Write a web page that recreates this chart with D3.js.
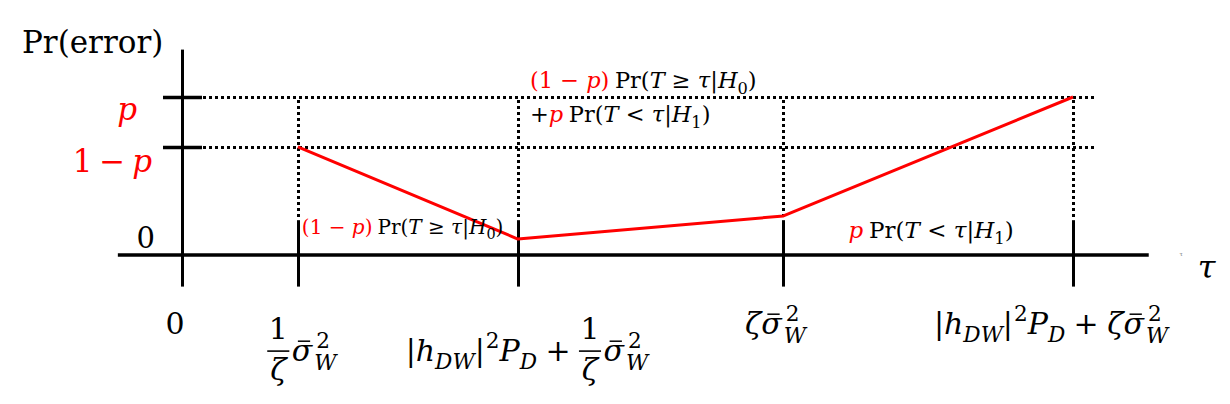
<!DOCTYPE html>
<html>
<head>
<meta charset="utf-8">
<script src="https://cdn.jsdelivr.net/npm/d3@7"></script>
<style>
  body { margin: 0; background: #fff; }
</style>
</head>
<body>
<svg id="chart" width="1230" height="404"></svg>
<script>
const RED   = "#ff0000"
const SERIF = "'DejaVu Serif', serif"

// τ break points in abstract units (0 = origin, 1 = last break point)
const tauBreaks  = [0, 0.130, 0.377, 0.675, 1]
// Pr(error) at tauBreaks[1..4], in units where p = 1
const errorCurve = [0.684, 0.101, 0.247, 1]
// horizontal reference levels: p and 1 - p
const levelValues = [1, 0.684]
const levelLabels = [
  [{ t: "p", it: 1, red: 1 }],
  [{ t: "1", red: 1 }, { sp: 0.22 }, { t: "−", red: 1 }, { sp: 0.22 }, { t: "p", it: 1, red: 1 }]
]
// tick labels under the τ axis
const tauLabels = [
  [{ t: "0" }],
  [{ frac: ["1", "ζ"] }, { sp: 0.08 }, { t: "σ", it: 1, bar: 1 }, { stack: ["2", "W"] }],
  [{ t: "|" }, { t: "h", it: 1 }, { sub: "DW", it: 1 }, { t: "|" }, { sup: "2" }, { t: "P", it: 1 }, { sub: "D", it: 1 },
   { sp: 0.28 }, { t: "+" }, { sp: 0.28 }, { frac: ["1", "ζ"] }, { sp: 0.08 }, { t: "σ", it: 1, bar: 1 }, { stack: ["2", "W"] }],
  [{ t: "ζ", it: 1 }, { t: "σ", it: 1, bar: 1 }, { stack: ["2", "W"] }],
  [{ t: "|" }, { t: "h", it: 1 }, { sub: "DW", it: 1 }, { t: "|" }, { sup: "2" }, { t: "P", it: 1 }, { sub: "D", it: 1 },
   { sp: 0.28 }, { t: "+" }, { sp: 0.28 }, { t: "ζ", it: 1 }, { t: "σ", it: 1, bar: 1 }, { stack: ["2", "W"] }]
]
// annotation texts
const probH0 = [{ t: "(1 − ", red: 1 }, { t: "p", it: 1, red: 1 }, { t: ")", red: 1 }, { sp: 0.25 },
  { t: "Pr(" }, { t: "T", it: 1 }, { t: " ≥ " }, { t: "τ", it: 1 }, { t: "|" }, { t: "H", it: 1 }, { sub: "0" }, { t: ")" }]
const probH1 = [{ t: "p", it: 1, red: 1 }, { sp: 0.25 },
  { t: "Pr(" }, { t: "T", it: 1 }, { t: " < " }, { t: "τ", it: 1 }, { t: "|" }, { t: "H", it: 1 }, { sub: "1" }, { t: ")" }]
const probH1plus = [{ t: "+" }].concat(probH1)

const svg = d3.select("#chart")
const x = d3.scaleLinear().domain([0, 1]).range([182, 1073])
const y = d3.scaleLinear().domain([0, 1]).range([255, 97])
const crisp = v => Math.round(v) + 0.5

// ── small math typesetter ──────────────────────────
function put(g, px, py, txt, size, o) {
  const t = g.append("text")
    .attr("x", px).attr("y", py)
    .attr("font-family", SERIF).attr("font-size", size)
    .attr("font-style", o.it ? "italic" : null)
    .attr("fill", o.red ? RED : "#000")
    .style("white-space", "pre")
    .text(txt)
  return { t, w: t.node().getComputedTextLength() }
}

function mathLabel(g, items, size) {
  let cx = 0
  const small = size * 0.72
  for (const it of items) {
    if (it.sp != null) { cx += it.sp * size; continue }
    if (it.sub != null) { cx += put(g, cx, size * 0.25, it.sub, small, it).w; continue }
    if (it.sup != null) { cx += put(g, cx + 1, -size * 0.42, it.sup, small, it).w + 1; continue }
    if (it.stack) {
      // superscript over subscript, kept in one text element
      const probe = put(g, 0, 0, it.stack[0], small, {})
      const wa = probe.w
      probe.t.remove()
      const t = g.append("text")
        .attr("x", cx + 2).attr("y", -size * 0.44)
        .attr("font-family", SERIF).attr("font-size", small)
      t.append("tspan").text(it.stack[0])
      t.append("tspan").attr("dx", -wa - 2).attr("dy", size * 0.74)
        .attr("font-style", "italic").text(it.stack[1])
      const wb = t.node().getComputedTextLength() - wa
      cx += Math.max(wa + 2, wb); continue
    }
    if (it.frac) {
      const ax  = -size * 0.33
      const num = put(g, 0, ax - size * 0.4, it.frac[0], size, {})
      const den = put(g, 0, ax + size * 0.95, it.frac[1], size, { it: 1 })
      const w   = Math.max(num.w, den.w) + size * 0.1
      num.t.attr("x", cx + (w - num.w) / 2)
      den.t.attr("x", cx + (w - den.w) / 2)
      g.append("line")
        .attr("x1", cx).attr("x2", cx + w)
        .attr("y1", ax).attr("y2", ax)
        .attr("stroke", "#000").attr("stroke-width", 1.6)
      cx += w; continue
    }
    const p = put(g, cx, 0, it.t, size, it)
    if (it.bar) {
      g.append("line")
        .attr("x1", cx + p.w * 0.3).attr("x2", cx + p.w * 0.9)
        .attr("y1", -size * 0.66).attr("y2", -size * 0.66)
        .attr("stroke", "#000").attr("stroke-width", 1.5)
    }
    cx += p.w
  }
  return cx
}

function placeLabel(items, size, px, py, anchor) {
  const g = svg.append("g")
  const w = mathLabel(g, items, size)
  const dx = anchor === "end" ? -w : anchor === "middle" ? -w / 2 : 0
  g.attr("transform", `translate(${px + dx},${py})`)
  return g
}

// ── dotted guides ──────────────────────────────────
const dotted = svg.append("g")
  .attr("stroke", "#000").attr("stroke-width", 3)
  .attr("stroke-dasharray", "3,3").attr("fill", "none")

levelValues.forEach(v => {
  dotted.append("line")
    .attr("x1", Math.round(x(0)) + 21).attr("x2", x(1.0236))
    .attr("y1", crisp(y(v))).attr("y2", crisp(y(v)))
})
tauBreaks.slice(1).forEach(t => {
  dotted.append("line")
    .attr("x1", crisp(x(t))).attr("x2", crisp(x(t)))
    .attr("y1", Math.round(y(1)) + 3).attr("y2", y(0.22))
})

// ── axes ───────────────────────────────────────────
const axes = svg.append("g").attr("stroke", "#000").attr("fill", "none")
axes.append("line")
  .attr("x1", x(-0.072)).attr("x2", x(1.085))
  .attr("y1", y(0)).attr("y2", y(0))
  .attr("stroke-width", 3.5)
axes.append("line")
  .attr("x1", crisp(x(0))).attr("x2", crisp(x(0)))
  .attr("y1", y(1.3)).attr("y2", y(-0.2))
  .attr("stroke-width", 3)

tauBreaks.slice(1).forEach(t => {
  axes.append("line")
    .attr("x1", crisp(x(t))).attr("x2", crisp(x(t)))
    .attr("y1", y(0.22)).attr("y2", y(-0.2))
    .attr("stroke-width", 3)
})
levelValues.forEach(v => {
  axes.append("line")
    .attr("x1", x(0) - 19).attr("x2", x(0) + 20)
    .attr("y1", crisp(y(v))).attr("y2", crisp(y(v)))
    .attr("stroke-width", 3.5)
})

// ── error curve ────────────────────────────────────
const pts = tauBreaks.slice(1).map((t, i) => [x(t), y(errorCurve[i])])
svg.append("path")
  .attr("d", d3.line()(pts))
  .attr("fill", "none").attr("stroke", RED)
  .attr("stroke-width", 3).attr("stroke-linejoin", "round")

// ── axis labels ────────────────────────────────────
placeLabel([{ t: "Pr(error)" }], 31, 22, 53, "start")
placeLabel([{ t: "τ", it: 1 }], 32, x(1.14), 278, "start")
svg.append("text")
  .attr("x", x(1.1196)).attr("y", 256)
  .attr("font-family", SERIF).attr("font-size", 6).attr("fill", "#777")
  .text("τ")

placeLabel(levelLabels[0], 31, x(0) - 45, 120, "end")
placeLabel(levelLabels[1], 31, x(0) - 30, 172, "end")
placeLabel([{ t: "0" }], 29, x(0) - 27, 248, "end")

const labelDx = [-7, 3, 8, -9, -23]
tauLabels.forEach((items, i) => {
  const hasFrac = items.some(d => d.frac)
  placeLabel(items, 30, x(tauBreaks[i]) + labelDx[i], hasFrac ? 361 : 334, "middle")
})

// ── annotations ────────────────────────────────────
placeLabel(probH0, 22.5, x(tauBreaks[2]) + 12, 88, "start")
placeLabel(probH1plus, 22.5, x(tauBreaks[2]) + 12, 122, "start")
placeLabel(probH0, 20, x(tauBreaks[1]) + 4, 234, "start")
placeLabel(probH1, 23, (x(tauBreaks[3]) + x(tauBreaks[4])) / 2 + 3, 238, "middle")
</script>
</body>
</html>
